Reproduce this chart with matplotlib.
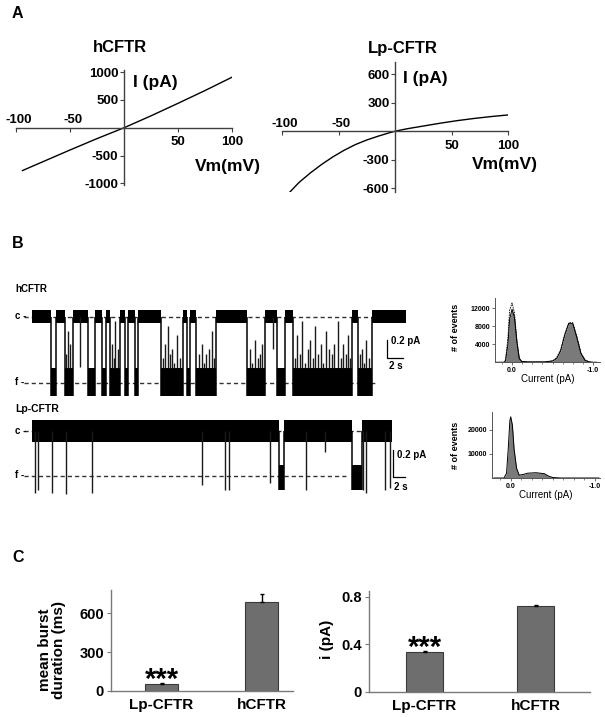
import numpy as np
import matplotlib
matplotlib.use("Agg")
from matplotlib import pyplot as plt
from matplotlib.ticker import MultipleLocator

plt.rcParams['font.family'] = ['Liberation Sans', 'DejaVu Sans']
plt.rcParams['font.weight'] = 'bold'

# ---- panel A : I-V curves
iv_v_h = [-94, -75, -50, -25, 0, 25, 50, 75, 100]
iv_i_h = [-770, -610, -400, -195, 0, 215, 440, 670, 910]
iv_v_lp = [-93, -85, -75, -65, -55, -45, -35, -25, -15, -5, 0, 10, 25, 40, 55, 70, 85, 100]
iv_i_lp = [-640, -540, -440, -350, -270, -200, -140, -92, -52, -16, 0, 25, 55, 85, 112,
           135, 155, 172]
iv_xticks = [-100, -50, 50, 100]
iv_yticks_h = [-1000, -500, 500, 1000]
iv_yticks_lp = [-600, -300, 300, 600]

# ---- panel B : single channel traces (time in s, current in pA)
hc_end = 46.75
hc_open = [(2.4, 3.0), (4.1, 5.1), (7.0, 7.9), (8.75, 9.25), (9.75, 11.0), (11.6, 12.0),
           (12.9, 13.25), (16.1, 18.9), (19.4, 19.75), (20.5, 23.0), (26.9, 29.1),
           (30.6, 31.6), (32.6, 40.0), (40.75, 42.5)]
hc_spike_t = [4.3, 4.5, 4.8, 6.0, 10.0, 10.2, 10.4, 10.7, 16.4, 16.6, 17.0, 17.3, 17.5, 17.8,
              18.1, 18.5, 20.9, 21.2, 21.5, 21.8, 22.1, 22.5, 22.8, 27.25, 27.5, 27.9, 28.2,
              28.5, 28.8, 30.1, 32.9, 33.1, 33.5, 33.8, 34.1, 34.5, 34.8, 35.1, 35.4, 35.7,
              36.1, 36.4, 36.8, 37.1, 37.5, 37.8, 38.3, 38.6, 38.9, 39.2, 39.5, 39.8, 41.0,
              41.2, 41.5, 41.8, 42.1]
hc_spike_i = [-0.4, -0.15, -0.3, -0.55, -0.3, -0.45, -0.05, -0.35, -0.45, -0.3, -0.1, -0.4,
              -0.35, -0.5, -0.2, -0.45, -0.4, -0.3, -0.5, -0.4, -0.35, -0.15, -0.45, -0.35,
              -0.5, -0.25, -0.45, -0.4, -0.3, -0.35, -0.45, -0.2, -0.4, -0.05, -0.5, -0.35,
              -0.25, -0.45, -0.1, -0.4, -0.3, -0.5, -0.15, -0.35, -0.4, -0.3, -0.05, -0.45,
              -0.3, -0.4, -0.2, -0.45, -0.4, -0.35, -0.5, -0.25, -0.45]
hc_level = -0.72

lp_end = 45.0
lp_open = [(30.9, 31.5), (40.0, 41.25)]
lp_spike_t = [0.4, 0.7, 2.5, 4.25, 7.5, 21.2, 24.1, 24.6, 29.75, 34.2, 36.6, 41.4, 41.8,
              44.1, 44.75]
lp_spike_i = [-0.46, -0.44, -0.46, -0.47, -0.46, -0.40, -0.44, -0.44, -0.385, -0.44, -0.155,
              -0.44, -0.46, -0.44, -0.42]
lp_level = -0.33

# amplitude histograms
hist_h_cur = [0.2, 0.1, 0.08, 0.05, 0.03, 0.0, -0.03, -0.06, -0.09, -0.12, -0.2, -0.3, -0.4,
              -0.5, -0.55, -0.6, -0.65, -0.7, -0.75, -0.8, -0.85, -0.9, -0.95, -1.0, -1.05]
hist_h_cnt = [0, 0, 300, 4000, 9500, 11800, 10000, 4500, 800, 200, 100, 100, 100, 300, 800,
              2500, 6000, 8600, 8600, 5500, 2000, 500, 100, 0, 0]
hist_h_fit = [0, 0, 600, 5500, 11500, 13200, 11000, 5000, 900, 150, 50, 50, 50, 300, 1000,
              2800, 6200, 8800, 8800, 5800, 2200, 500, 100, 0, 0]
hist_lp_cur = [0.2, 0.08, 0.05, 0.03, 0.01, 0.0, -0.02, -0.04, -0.07, -0.1, -0.15, -0.2,
               -0.3, -0.4, -0.45, -0.5, -0.6, -1.05]
hist_lp_cnt = [0, 0, 2000, 12000, 24000, 25500, 22000, 12000, 4000, 1200, 1500, 2000, 2200,
               1800, 800, 200, 0, 0]

# ---- panel C : bar charts
groups = ['Lp-CFTR', 'hCFTR']
burst_ms = [55, 685]
burst_err = [8, 60]
unit_i = [0.335, 0.72]
unit_err = [0.008, 0.01]


W, H = 605, 717
fig = plt.figure(figsize=(W / 100, H / 100), dpi=100)


def box(x0, y0, x1, y1):
    return [x0 / W, 1 - y1 / H, (x1 - x0) / W, (y1 - y0) / H]


def ftext(x, y, s, **kw):
    fig.text(x / W, 1 - y / H, s, **kw)


axcol = '#404040'


# ------------------------------------------------------------ A
def iv_plot(rect, v, i, yticks, ylim, title, tx, ty):
    ax = fig.add_axes(rect)
    ax.plot(v, i, color='black', lw=1.0)
    ax.set_xlim(-100, 100)
    ax.set_ylim(*ylim)
    for s in ['top', 'right']:
        ax.spines[s].set_visible(False)
    ax.spines['left'].set_position(('data', 0))
    ax.spines['bottom'].set_position(('data', 0))
    for s in ['left', 'bottom']:
        ax.spines[s].set_color(axcol)
        ax.spines[s].set_linewidth(1.0)
    ax.set_yticks(yticks)
    ax.set_yticklabels([str(t) for t in yticks])
    ax.set_xticks(iv_xticks)
    ax.set_xticklabels([])
    ax.tick_params(direction='out', length=3, width=0.8, color=axcol, labelsize=9.5, pad=1)
    ax.patch.set_alpha(0)
    for t in iv_xticks:
        if t < 0:
            ax.annotate(str(t), (t, 0), xytext=(2, 1), textcoords='offset points',
                        ha='center', va='bottom', fontsize=9.5)
        else:
            ax.annotate(str(t), (t, 0), xytext=(0, -6), textcoords='offset points',
                        ha='center', va='top', fontsize=9.5)
    ftext(tx, ty, title, fontsize=12, ha='center', va='center')
    return ax


iv_plot(box(16, 70, 232, 185), iv_v_h, iv_i_h, iv_yticks_h, (-1030, 1040), 'hCFTR', 120, 47)
ftext(133, 82, 'I (pA)', fontsize=12.5, ha='left', va='center')
ftext(195, 167, 'Vm(mV)', fontsize=12.5, ha='left', va='center')

iv_plot(box(282, 62, 508, 192), iv_v_lp, iv_i_lp, iv_yticks_lp, (-640, 730), 'Lp-CFTR', 403, 48)
ftext(403, 78, 'I (pA)', fontsize=12.5, ha='left', va='center')
ftext(472, 164, 'Vm(mV)', fontsize=12.5, ha='left', va='center')

ftext(12, 14, 'A', fontsize=11.5, ha='left', va='center')


# ------------------------------------------------------------ B
def trace(ax, t_end, opens, level, c_half, band, spike_t, spike_i):
    edges = [0.0]
    for a, b in opens:
        edges += [a, b]
    edges.append(t_end)
    closed = [(edges[k], edges[k + 1]) for k in range(0, len(edges), 2)]
    for a, b in closed:
        ax.bar(a, 2 * c_half, bottom=-c_half, width=b - a, align='edge',
               color='black', lw=0, zorder=3)
    for a, b in opens:
        ax.bar(a, band[1] - band[0], bottom=band[0], width=b - a, align='edge',
               color='black', lw=0, zorder=3)
    trans = [a for a, b in opens] + [b for a, b in opens]
    ax.vlines(trans, band[0], 0, color='black', lw=1.1, zorder=3)
    for t, i in zip(spike_t, spike_i):
        inside = any(a <= t <= b for a, b in opens)
        base = band[1] if inside else 0
        ax.vlines(t, min(i, base), max(i, base), color='#1a1a1a', lw=1.0, zorder=3)
    ax.axis('off')


def tpx(x):
    return (x - 32) / 8.0


dash = (0, (3, 2.2))

tr1 = fig.add_axes(box(10, 300, 420, 402))
tr1.set_xlim(tpx(10), tpx(420))
tr1.set_ylim(-(402 - 316.7) / 92, (316.7 - 300) / 92)
tr1.hlines(0, tpx(24), tpx(405), color='#333333', lw=1.0, linestyles=dash, zorder=1)
tr1.hlines(hc_level, tpx(24), tpx(376), color='#333333', lw=1.0, linestyles=dash, zorder=1)
trace(tr1, hc_end, hc_open, hc_level, 0.07, (-0.86, -0.56), hc_spike_t, hc_spike_i)
tr1.plot([tpx(387), tpx(387), tpx(403)], [-0.25, -0.45, -0.45], color='black', lw=0.9)

ftext(15, 289, 'hCFTR', fontsize=7, ha='left', va='center')
ftext(15, 316, 'c -', fontsize=7, ha='left', va='center')
ftext(15, 382, 'f -', fontsize=7, ha='left', va='center')
ftext(391, 341, '0.2 pA', fontsize=7, ha='left', va='center')
ftext(389, 366, '2 s', fontsize=7, ha='left', va='center')

tr2 = fig.add_axes(box(10, 405, 420, 505))
tr2.set_xlim(tpx(10), tpx(420))
tr2.set_ylim(-(505 - 431) / 135, (431 - 405) / 135)
tr2.hlines(0, tpx(24), tpx(392), color='#333333', lw=1.0, linestyles=dash, zorder=1)
tr2.hlines(lp_level, tpx(24), tpx(348), color='#333333', lw=1.0, linestyles=dash, zorder=1)
trace(tr2, lp_end, lp_open, lp_level, 0.085, (-0.44, -0.25), lp_spike_t, lp_spike_i)
tr2.plot([tpx(393), tpx(393), tpx(405)], [-0.14, -0.34, -0.34], color='black', lw=0.9)

ftext(15, 409, 'Lp-CFTR', fontsize=7.5, ha='left', va='center')
ftext(15, 431, 'c -', fontsize=7, ha='left', va='center')
ftext(15, 475, 'f -', fontsize=7, ha='left', va='center')
ftext(397, 455, '0.2 pA', fontsize=7, ha='left', va='center')
ftext(394, 487, '2 s', fontsize=7, ha='left', va='center')

ftext(12, 244, 'B', fontsize=11.5, ha='left', va='center')


def hist_panel(rect, cur, cnt, fit, xlim, ylim, yticks, ylab_y):
    ax = fig.add_axes(rect)
    ax.fill_between(cur, cnt, color='#7a7a7a', lw=0)
    ax.plot(cur, cnt, color='black', lw=0.7)
    if fit is not None:
        ax.plot(cur, fit, color='black', lw=0.6, ls=(0, (2, 1)))
    ax.set_xlim(*xlim)
    ax.set_ylim(*ylim)
    for s in ['top', 'right']:
        ax.spines[s].set_visible(False)
    for s in ['left', 'bottom']:
        ax.spines[s].set_color('#555555')
        ax.spines[s].set_linewidth(0.7)
    ax.set_yticks(yticks)
    ax.set_yticklabels([str(t) for t in yticks])
    ax.set_xticks([0.0, -1.0])
    ax.set_xticklabels(['0.0', '-1.0'])
    ax.xaxis.set_minor_locator(MultipleLocator(0.125))
    ax.tick_params(labelsize=5, length=2, width=0.6, pad=1.5, color='#555555')
    ax.tick_params(which='minor', length=1.5, width=0.5, color='#555555')
    ax.set_xlabel('Current (pA)', fontsize=7, labelpad=0)
    ftext(455, ylab_y, '# of events', fontsize=6.5, rotation=90, ha='center', va='center')
    ax.patch.set_alpha(0)


hist_panel(box(495, 298, 600, 362.3), hist_h_cur, hist_h_cnt, hist_h_fit,
           (0.21, -1.086), (0, 14290), [4000, 8000, 12000], 327)
hist_panel(box(492, 412, 600, 478), hist_lp_cur, hist_lp_cnt, None,
           (0.223, -1.063), (0, 27500), [10000, 20000], 445)


# ------------------------------------------------------------ C
def bar_panel(rect, vals, errs, xlim, ylim, yticks, ylabels, star_gap):
    ax = fig.add_axes(rect)
    x = np.arange(len(groups))
    ax.bar(x, vals, width=0.33, color='#6e6e6e', edgecolor='#3a3a3a', lw=0.8, zorder=2)
    ax.errorbar(x, vals, yerr=[np.zeros(len(errs)), errs], fmt='none', ecolor='black',
                elinewidth=1.0, capsize=1.5, capthick=1.0, zorder=3)
    ax.set_xlim(*xlim)
    ax.set_ylim(*ylim)
    for s in ['top', 'right']:
        ax.spines[s].set_visible(False)
    for s in ['left', 'bottom']:
        ax.spines[s].set_color('#7a7a7a')
        ax.spines[s].set_linewidth(1.0)
    ax.set_xticks(x)
    ax.set_xticklabels(groups, fontsize=11)
    ax.set_yticks(yticks)
    ax.set_yticklabels(ylabels, fontsize=10.5)
    ax.tick_params(axis='x', length=0, pad=5)
    ax.tick_params(axis='y', length=3, color='#7a7a7a', pad=2)
    ax.text(0, vals[0] + errs[0] + star_gap, '***', ha='center', va='center', fontsize=21)
    return ax


bar_panel(box(111, 590, 293, 691), burst_ms, burst_err, (-0.505, 1.315), (0, 777),
          [0, 300, 600], ['0', '300', '600'], 22)
ftext(52, 650, 'mean burst\nduration (ms)', fontsize=11, rotation=90, ha='center',
      va='center', linespacing=1.0)

bar_panel(box(369, 591, 590, 691.7), unit_i, unit_err, (-0.5, 1.49), (0, 0.848),
          [0, 0.4, 0.8], ['0', '0.4', '0.8'], 0.025)
ftext(327, 639, 'i (pA)', fontsize=11, rotation=90, ha='center', va='center')

ftext(12, 558, 'C', fontsize=11.5, ha='left', va='center')

plt.savefig('out.png', dpi=100)
